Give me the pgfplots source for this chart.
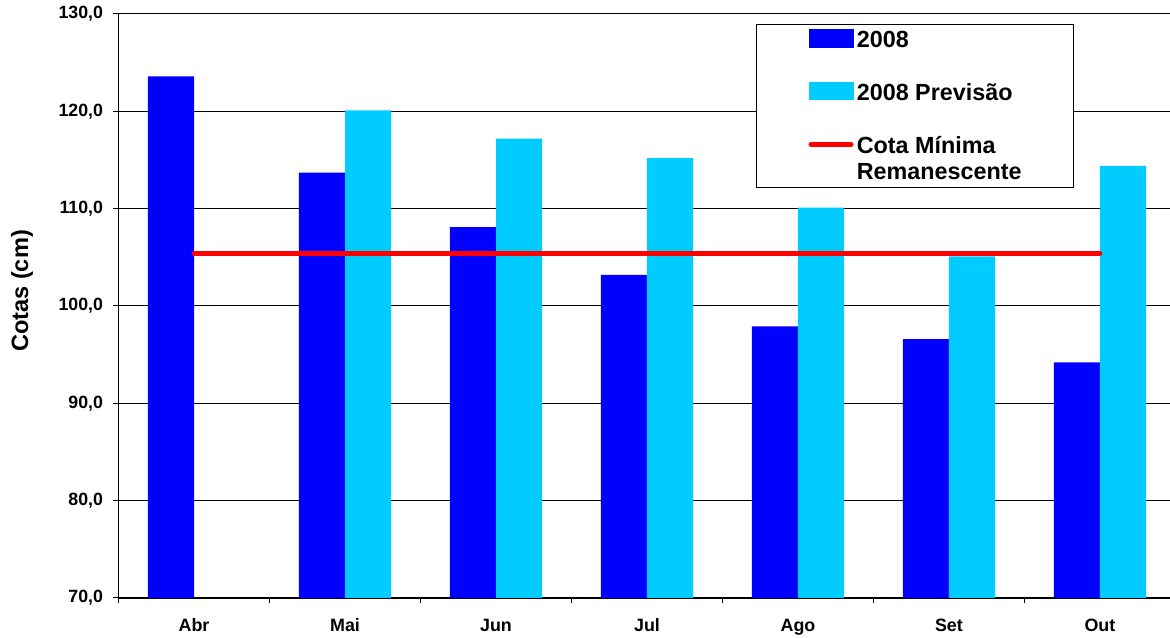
\documentclass[border=0pt]{standalone}
\usepackage{pgfplots}
\pgfplotsset{compat=1.18}
\usepackage{fontspec}
\setmainfont{Liberation Sans}
\definecolor{dblue}{HTML}{0000FF}
\definecolor{lblue}{HTML}{00CCFF}
\definecolor{lred}{HTML}{FF0000}
\begin{document}
\begin{tikzpicture}
\useasboundingbox (-88.9pt,-30pt) rectangle (788.6pt,448.5pt);
\begin{axis}[
  at={(0pt,0pt)}, anchor=south west,
  scale only axis, width=788.6pt, height=438pt,
  xmin=-0.5, xmax=6.464, ymin=70, ymax=130,
  axis x line*=bottom, axis y line*=left,
  axis line style={black, line width=0.9pt, -},
  ytick={70,80,...,130},
  yticklabels={{70,0},{80,0},{90,0},{100,0},{110,0},{120,0},{130,0}},
  ymajorgrids, grid style={black, line width=0.75pt},
  xtick={0,...,6},
  xticklabels={Abr,Mai,Jun,Jul,Ago,Set,Out},
  xtick style={draw=none},
  extra x ticks={-0.5,0.5,1.5,2.5,3.5,4.5,5.5},
  extra x tick labels={},
  extra x tick style={xtick style={draw=black, line width=0.75pt}},
  ytick style={draw=black, line width=0.75pt},
  tick align=outside,
  major tick length=4pt,
  yticklabel style={font=\fontsize{13.3}{16}\selectfont\bfseries, anchor=east, inner sep=0pt, xshift=-7.5pt},
  xticklabel style={font=\fontsize{13.4}{16}\selectfont\bfseries, anchor=base, inner sep=0pt, yshift=-21.5pt},
  ylabel={Cotas (cm)},
  ylabel style={at={(axis description cs:-0.0918,0.5257)}, anchor=center, font=\fontsize{17.7}{20}\selectfont\bfseries},
  legend style={at={(0.6063,0.9829)}, anchor=north west, draw=black, line width=0.75pt,
    inner xsep=39pt, inner ysep=3.5pt, row sep=24pt,
    /tikz/every odd column/.append style={column sep=2.5pt},
    cells={anchor=base west},
    nodes={inner sep=0pt, text height=14pt, font=\fontsize{17.5}{19.5}\selectfont\bfseries}},
]
\addplot[ybar, bar width=0.305, bar shift=-0.1525, fill=dblue, draw=none,
  legend image code/.code={\fill[dblue] (0pt,0pt) rectangle (33.75pt,14pt);}]
  coordinates {(0,123.6) (1,113.7) (2,108.1) (3,103.2) (4,97.9) (5,96.6) (6,94.2)};
\addlegendentry{2008}
\addplot[ybar, bar width=0.305, bar shift=0.1525, fill=lblue, draw=none,
  legend image code/.code={\fill[lblue] (0pt,0pt) rectangle (33.75pt,14pt);}]
  coordinates {(1,120.1) (2,117.2) (3,115.2) (4,110.1) (5,105.1) (6,114.4)};
\addlegendentry{2008 Previsão}
\addplot[lred, line width=3.5pt, line cap=round,
  legend image code/.code={\draw[lred, line width=4pt, line cap=round] (2pt,6.5pt) -- (31.75pt,6.5pt);}]
  coordinates {(0,105.4) (6,105.4)};
\addlegendentry[text depth=22.5pt]{\vtop{\hbox{Cota Mínima}\hbox{Remanescente}}}
\end{axis}
\end{tikzpicture}
\end{document}
